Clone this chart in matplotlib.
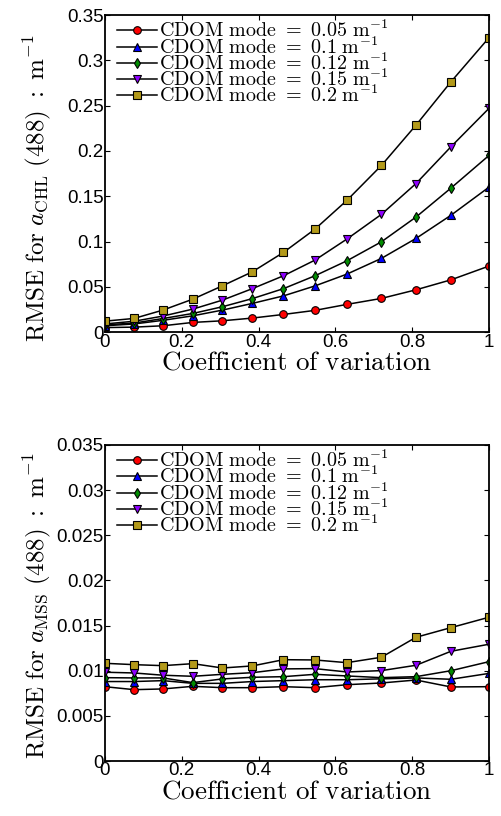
import matplotlib
matplotlib.use('Agg')
import matplotlib.pyplot as plt
from matplotlib.ticker import FormatStrFormatter

plt.rcParams['mathtext.fontset'] = 'cm'
plt.rcParams['font.family'] = ['Liberation Sans', 'DejaVu Sans']

# DATA
cv = [0, 0.076, 0.151, 0.229, 0.306, 0.384, 0.465, 0.547, 0.630, 0.720, 0.810, 0.901, 1.0]
modes = ['0.05', '0.1', '0.12', '0.15', '0.2']

chl_005 = [0.005, 0.0055, 0.007, 0.0107, 0.0125, 0.0155, 0.0195, 0.024, 0.0306, 0.0372, 0.0467, 0.0577, 0.0729]
chl_010 = [0.007, 0.009, 0.013, 0.018, 0.0243, 0.0317, 0.040, 0.051, 0.064, 0.0814, 0.1034, 0.129, 0.160]
chl_012 = [0.008, 0.010, 0.015, 0.0206, 0.028, 0.037, 0.048, 0.0622, 0.0787, 0.0997, 0.127, 0.159, 0.195]
chl_015 = [0.009, 0.012, 0.0177, 0.0254, 0.0353, 0.048, 0.0622, 0.0795, 0.1027, 0.130, 0.164, 0.2046, 0.247]
chl_020 = [0.0121, 0.0151, 0.0243, 0.0364, 0.0511, 0.0666, 0.088, 0.1137, 0.1454, 0.184, 0.2285, 0.2763, 0.325]

mss_005 = [0.00823, 0.0079, 0.00798, 0.00827, 0.00812, 0.00812, 0.00823, 0.00812, 0.00845, 0.00864, 0.00897, 0.0082, 0.00823]
mss_010 = [0.0088, 0.0088, 0.0089, 0.0086, 0.0086, 0.0088, 0.0089, 0.0090, 0.0090, 0.0091, 0.0092, 0.00905, 0.0097]
mss_012 = [0.00923, 0.0092, 0.0092, 0.00868, 0.00909, 0.00927, 0.00934, 0.0096, 0.00942, 0.00923, 0.00934, 0.0100, 0.0110]
mss_015 = [0.00983, 0.00975, 0.0095, 0.00938, 0.0096, 0.00978, 0.0102, 0.01023, 0.00986, 0.01001, 0.0106, 0.01215, 0.01293]
mss_020 = [0.01082, 0.01067, 0.01056, 0.01078, 0.0103, 0.01053, 0.01122, 0.01119, 0.01089, 0.01149, 0.0137, 0.01477, 0.01592]

markers = ['o', '^', 'd', 'v', 's']
colors = ['#ff0000', '#0000ff', '#008c00', '#8f00ff', '#b39a1a']

fig = plt.figure(figsize=(5.02, 8.16), dpi=100)
ax1 = fig.add_axes([0.209, 0.593, 0.765, 0.3885])
ax2 = fig.add_axes([0.209, 0.0674, 0.765, 0.3873])


def draw(ax, series, ymax, ystep, ylabel, ylab_y):
    for ys, m, c, md in zip(series, markers, colors, modes):
        ax.plot(cv, ys, '-', color='k', lw=1.1, marker=m, mfc=c, mec='k',
                mew=0.8, ms=5.5,
                label=r'$\mathrm{CDOM\ mode}\ =\ %s\ \mathrm{m}^{-1}$' % md)
    ax.set_xlim(0, 1)
    ax.set_ylim(0, ymax)
    ax.set_xticks([0, 0.2, 0.4, 0.6, 0.8, 1])
    ax.set_yticks([i * ystep for i in range(8)])
    ax.xaxis.set_major_formatter(FormatStrFormatter('%g'))
    ax.yaxis.set_major_formatter(FormatStrFormatter('%g'))
    ax.tick_params(direction='in', top=True, right=True, length=3.5,
                   width=0.8, labelsize=13.5, pad=1)
    for sp in ax.spines.values():
        sp.set_linewidth(1.3)
    ax.set_xlabel(r'$\mathrm{Coefficient\ of\ variation}$', fontsize=19.5, labelpad=-1)
    ax.set_ylabel(ylabel, fontsize=18)
    ax.yaxis.set_label_coords(-0.135, ylab_y)
    ax.legend(loc='upper left', bbox_to_anchor=(0.032, 0.985), frameon=False,
              fontsize=14.5, handlelength=2.0, handletextpad=0.1,
              labelspacing=-0.26, borderaxespad=0.0, borderpad=0.0)


draw(ax1, [chl_005, chl_010, chl_012, chl_015, chl_020], 0.35, 0.05,
     r'$\mathrm{RMSE\ for\ }a_{\mathrm{CHL}}\ (488)\ :\ \mathrm{m}^{-1}$', 0.455)
draw(ax2, [mss_005, mss_010, mss_012, mss_015, mss_020], 0.035, 0.005,
     r'$\mathrm{RMSE\ for\ }a_{\mathrm{MSS}}\ (488)\ :\ \mathrm{m}^{-1}$', 0.49)

fig.savefig('out.png', dpi=100)
